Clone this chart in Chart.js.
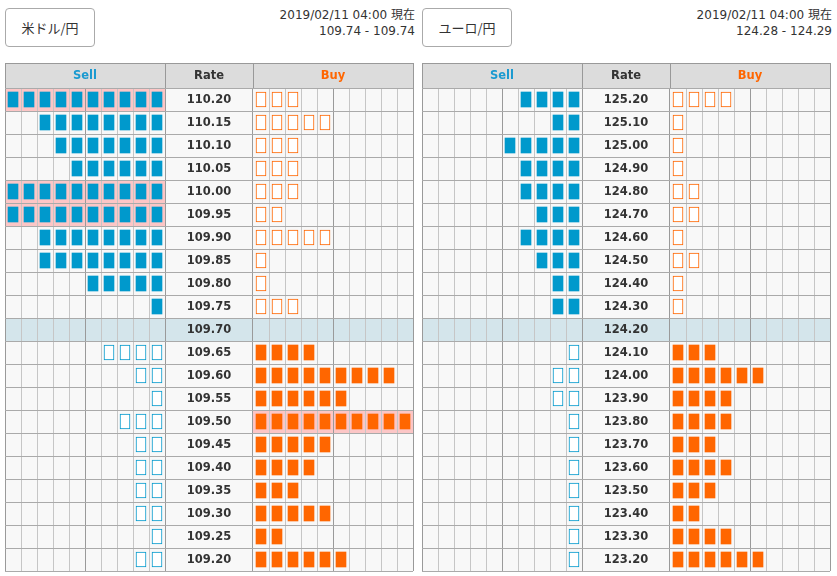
<!DOCTYPE html>
<html>
<head>
<meta charset="utf-8">
<script src="https://cdn.jsdelivr.net/npm/chart.js@4.4.1/dist/chart.umd.min.js"></script>
<style>
  body { margin: 0; background: #fff; color: #333; font-family: "DejaVu Sans", "Noto Sans CJK JP", sans-serif; }
  .pair { position: absolute; top: 8px; width: 88px; height: 37px; line-height: 37px; border: 1px solid #aaa; border-radius: 4px;
          background: #fff; font-size: 13px; text-align: center; font-family: "Noto Sans CJK JP", sans-serif; }
  .stamp { position: absolute; top: 7px; font-size: 12px; line-height: 16px; text-align: right; }
  canvas { position: absolute; top: 63px; }
</style>
</head>
<body>
<div class="pair" style="left:5px">米ドル/円</div>
<div class="stamp" style="right:422px">2019/02/11 04:00 現在<br>109.74 - 109.74</div>
<canvas id="usd" width="409" height="509" style="left:5px"></canvas>

<div class="pair" style="left:422px">ユーロ/円</div>
<div class="stamp" style="right:5px">2019/02/11 04:00 現在<br>124.28 - 124.29</div>
<canvas id="eur" width="409" height="509" style="left:422px"></canvas>

<script>
// USD/JPY
const usdRates = ['110.20', '110.15', '110.10', '110.05', '110.00', '109.95', '109.90', '109.85', '109.80', '109.75', '109.70',
  '109.65', '109.60', '109.55', '109.50', '109.45', '109.40', '109.35', '109.30', '109.25', '109.20'];
const usdSell = [10, 8, 7, 6, 10, 10, 8, 8, 5, 1, 0, 4, 2, 1, 3, 2, 2, 2, 2, 1, 2];
const usdBuy = [3, 5, 3, 3, 3, 2, 5, 1, 1, 3, 0, 4, 9, 6, 10, 5, 4, 3, 5, 2, 6];
const usdCurrent = '109.70';

// EUR/JPY
const eurRates = ['125.20', '125.10', '125.00', '124.90', '124.80', '124.70', '124.60', '124.50', '124.40', '124.30', '124.20',
  '124.10', '124.00', '123.90', '123.80', '123.70', '123.60', '123.50', '123.40', '123.30', '123.20'];
const eurSell = [4, 2, 5, 4, 4, 3, 4, 3, 2, 2, 0, 1, 2, 2, 1, 1, 1, 1, 1, 1, 1];
const eurBuy = [4, 1, 1, 1, 2, 2, 1, 2, 1, 1, 0, 3, 6, 4, 4, 3, 4, 3, 2, 4, 6];
const eurCurrent = '124.20';

const BLUE = '#0099cc';
const ORANGE = '#ff6600';
const CELLS = 10;          // cells per side
const BUY0 = CELLS + 5.5;  // rate column is 5.5 cells wide
const TOTAL = BUY0 + CELLS;
const FONT = '"DejaVu Sans", sans-serif';

const xLines = [];
for (let i = 0; i <= CELLS; i++) xLines.push(i);
for (let i = 0; i <= CELLS; i++) xLines.push(BUY0 + i);
const majorLines = [0, 5, CELLS, BUY0, BUY0 + 5, TOTAL];

// one floating bar per order unit, sell grows leftwards from the rate column
function units(rates, counts, current, side) {
  const cur = rates.indexOf(current);
  const out = [];
  counts.forEach((n, i) => {
    for (let k = 0; k < n; k++) {
      const c = side === 'sell' ? CELLS - 1 - k : BUY0 + k;
      const filled = side === 'sell' ? i < cur : i > cur;
      out.push({ y: rates[i], x: [c + 3 / 16, c + 13 / 16], filled });
    }
  });
  return out;
}

function makeBook(id, rates, sell, buy, current) {
  const cur = rates.indexOf(current);

  const book = {
    id: 'book',
    beforeDraw(chart) {
      const { ctx, chartArea: a, scales: { x, y } } = chart;
      const rowH = y.getPixelForValue(1) - y.getPixelForValue(0);
      const rowTop = i => y.getPixelForValue(i) - rowH / 2;
      ctx.save();
      ctx.fillStyle = '#f8f8f8';
      ctx.fillRect(a.left, a.top, a.width, a.height);
      ctx.fillStyle = '#d4e5eb';
      ctx.fillRect(a.left, rowTop(cur), a.width, rowH);
      ctx.fillStyle = '#fcc6c6';
      rates.forEach((r, i) => {
        if (sell[i] >= CELLS) ctx.fillRect(x.getPixelForValue(0), rowTop(i), x.getPixelForValue(CELLS) - x.getPixelForValue(0), rowH);
        if (buy[i] >= CELLS) ctx.fillRect(x.getPixelForValue(BUY0), rowTop(i), x.getPixelForValue(TOTAL) - x.getPixelForValue(BUY0), rowH);
      });
      ctx.restore();
    },
    afterDraw(chart) {
      const { ctx, chartArea: a, scales: { x, y } } = chart;
      ctx.save();
      // header row
      ctx.fillStyle = '#dcdcdc';
      ctx.fillRect(a.left, 0, a.width, a.top);
      ctx.strokeStyle = '#999';
      ctx.lineWidth = 1;
      ctx.beginPath();
      ctx.moveTo(a.left, 0.5);
      ctx.lineTo(a.right + 1, 0.5);
      [0, CELLS, BUY0, TOTAL].forEach(v => {
        const px = Math.round(x.getPixelForValue(v)) + 0.5;
        ctx.moveTo(px, 0);
        ctx.lineTo(px, a.top);
      });
      ctx.stroke();

      ctx.font = 'bold 11.5px ' + FONT;
      ctx.textAlign = 'center';
      ctx.textBaseline = 'middle';
      const hy = a.top / 2 + 0.5;
      ctx.fillStyle = '#1a9ad0';
      ctx.fillText('Sell', x.getPixelForValue(CELLS / 2), hy);
      ctx.fillStyle = '#333';
      ctx.fillText('Rate', x.getPixelForValue((CELLS + BUY0) / 2), hy);
      ctx.fillStyle = ORANGE;
      ctx.fillText('Buy', x.getPixelForValue(BUY0 + CELLS / 2), hy);

      // rate labels in the middle column
      ctx.fillStyle = '#333';
      rates.forEach((r, i) => ctx.fillText(r, x.getPixelForValue((CELLS + BUY0) / 2), y.getPixelForValue(i) + 1));
      ctx.restore();
    }
  };

  const fill = color => c => (c.raw && c.raw.filled ? color : '#fff');
  const edge = c => (c.raw && c.raw.filled ? 0 : 1);

  return new Chart(document.getElementById(id), {
    type: 'bar',
    data: {
      labels: rates,
      datasets: [
        { data: units(rates, sell, current, 'sell'), backgroundColor: fill(BLUE), borderColor: BLUE, borderWidth: edge },
        { data: units(rates, buy, current, 'buy'), backgroundColor: fill(ORANGE), borderColor: ORANGE, borderWidth: edge }
      ]
    },
    options: {
      indexAxis: 'y',
      responsive: false,
      maintainAspectRatio: false,
      animation: false,
      layout: { padding: { top: 25, right: 1, bottom: 1, left: 0 } },
      datasets: { bar: { grouped: false, barThickness: 15, borderSkipped: false } },
      plugins: { legend: { display: false }, tooltip: { enabled: false } },
      scales: {
        x: {
          type: 'linear', min: 0, max: TOTAL,
          afterBuildTicks: s => { s.ticks = xLines.map(v => ({ value: v })); },
          ticks: { display: false },
          grid: { drawTicks: false, color: c => (majorLines.includes(c.tick.value) ? '#9a9a9a' : '#c6c6c6') },
          border: { display: false }
        },
        y: {
          type: 'category', offset: true,
          ticks: { display: false },
          grid: { offset: true, drawTicks: false, color: '#aaa' },
          border: { display: false }
        }
      }
    },
    plugins: [book]
  });
}

makeBook('usd', usdRates, usdSell, usdBuy, usdCurrent);
makeBook('eur', eurRates, eurSell, eurBuy, eurCurrent);
</script>
</body>
</html>
